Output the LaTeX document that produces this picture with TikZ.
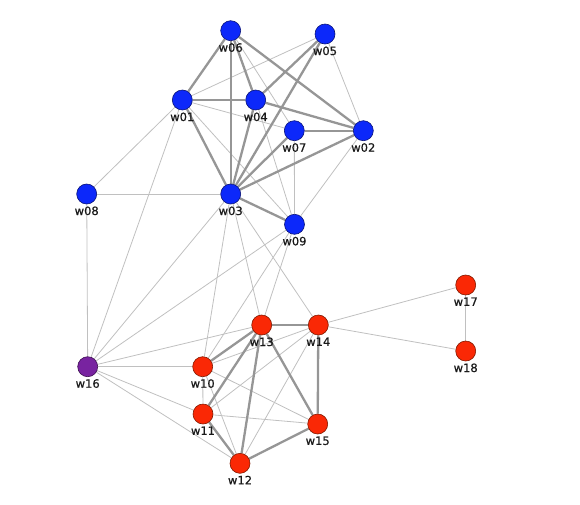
\documentclass[tikz,border=0pt]{standalone}
\usepackage{fontspec}
\setmainfont{DejaVu Sans}
\newfontfamily\labfont[FakeBold=0.6]{DejaVu Sans}
\usetikzlibrary{backgrounds}
\definecolor{nblue}{RGB}{12,40,250}
\definecolor{nbluedark}{RGB}{10,20,120}
\definecolor{nred}{RGB}{250,40,5}
\definecolor{nreddark}{RGB}{130,25,0}
\definecolor{npurple}{RGB}{120,35,160}
\definecolor{npurpledark}{RGB}{60,15,80}
\definecolor{thickedge}{RGB}{150,150,150}
\definecolor{thinedge}{RGB}{192,192,192}
\definecolor{labcol}{RGB}{25,25,25}
\begin{document}
\begin{tikzpicture}[x=1pt,y=-1pt,
  vtx/.style={circle,minimum size=20pt,inner sep=0pt,line width=0.6pt,
    label={[lab]below:#1}},
  lab/.style={font=\labfont\fontsize{11.5}{12}\selectfont,text=labcol,inner sep=0pt,label distance=2pt},
  bv/.style={vtx=#1,fill=nblue,draw=nbluedark},
  rv/.style={vtx=#1,fill=nred,draw=nreddark},
  pv/.style={vtx=#1,fill=npurple,draw=npurpledark},
  thin/.style={draw=thinedge,line width=0.8pt},
  thick/.style={draw=thickedge,line width=2.3pt}]
\useasboundingbox (0,0) rectangle (580,504);
% nodes
\node[bv=w06] (w06) at (230.7,30.7) {};
\node[bv=w05] (w05) at (325,34) {};
\node[bv=w01] (w01) at (182.3,100) {};
\node[bv=w04] (w04) at (255.7,100) {};
\node[bv=w07] (w07) at (294.3,130.7) {};
\node[bv=w02] (w02) at (363.3,130.7) {};
\node[bv=w08] (w08) at (86.7,194) {};
\node[bv=w03] (w03) at (230.7,194) {};
\node[bv=w09] (w09) at (294.5,224.3) {};
\node[rv=w17] (w17) at (465.7,285) {};
\node[rv=w13] (w13) at (261.7,325) {};
\node[rv=w14] (w14) at (318.3,325) {};
\node[rv=w18] (w18) at (465.7,351) {};
\node[pv=w16] (w16) at (87.7,366.7) {};
\node[rv=w10] (w10) at (202.7,366.7) {};
\node[rv=w11] (w11) at (203,414) {};
\node[rv=w15] (w15) at (317.7,424) {};
\node[rv=w12] (w12) at (240,463.3) {};
% edges
\begin{scope}[on background layer]
\foreach \a/\b in {w05/w01,w05/w02,w01/w07,w06/w07,w04/w09,w01/w09,w01/w08,
  w01/w16,w03/w08,w08/w16,w07/w09,w02/w09,w03/w10,w03/w13,w03/w14,w03/w16,
  w09/w13,w09/w16,w09/w10,w16/w13,w16/w10,w16/w11,w16/w12,
  w10/w11,w10/w12,w10/w14,w10/w15,w11/w14,w11/w15,w12/w14,
  w14/w17,w14/w18,w17/w18}
  \draw[thin] (\a) -- (\b);
\foreach \a/\b in {w06/w01,w06/w03,w06/w04,w06/w02,w05/w04,w05/w03,w01/w04,
  w01/w03,w04/w03,w04/w02,w07/w02,w07/w03,w02/w03,w03/w09,
  w10/w13,w11/w13,w12/w13,w13/w14,w13/w15,w14/w15,w12/w15,w11/w12}
  \draw[thick] (\a) -- (\b);
\end{scope}
\end{tikzpicture}
\end{document}
